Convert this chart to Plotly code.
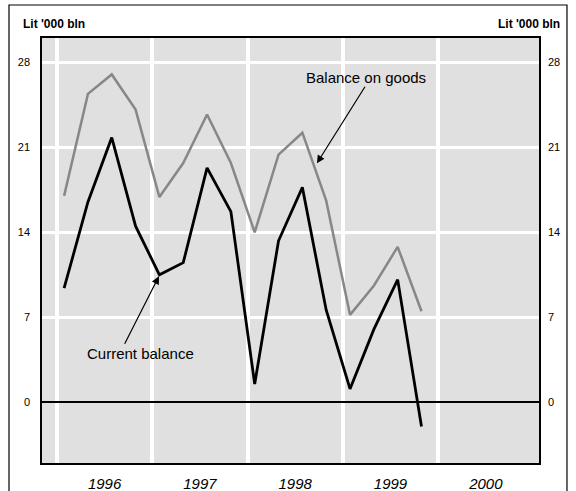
import plotly.graph_objects as go

# Quarterly data, 1996 Q1 - 1999 Q4 (Lit '000 bln)
years = [1996] * 4 + [1997] * 4 + [1998] * 4 + [1999] * 4
quarters = [1, 2, 3, 4] * 4
current_balance = [9.4, 16.5, 21.8, 14.5, 10.5, 11.5, 19.3, 15.7,
                   1.5, 13.3, 17.7, 7.6, 1.1, 6.0, 10.1, -2.0]
balance_on_goods = [17.0, 25.4, 27.0, 24.1, 16.9, 19.7, 23.7, 19.7,
                    14.0, 20.4, 22.2, 16.6, 7.2, 9.6, 12.8, 7.5]

year_labels = ['1996', '1997', '1998', '1999', '2000']
y_ticks = [0, 7, 14, 21, 28]

FONT = 'Liberation Sans, Arial, sans-serif'

# position each quarter within its year band
x = [y + (q - 1) / 4 + 0.075 for y, q in zip(years, quarters)]

fig = go.Figure()
fig.add_trace(go.Scatter(
    x=x, y=balance_on_goods, mode='lines',
    line=dict(color='#878787', width=2.5),
    hoverinfo='skip', showlegend=False,
))
fig.add_trace(go.Scatter(
    x=x, y=current_balance, mode='lines',
    line=dict(color='black', width=2.8),
    hoverinfo='skip', showlegend=False,
))
# invisible trace so the right axis is drawn
fig.add_trace(go.Scatter(
    x=[x[0]], y=[0], yaxis='y2', mode='markers',
    marker=dict(opacity=0), hoverinfo='skip', showlegend=False,
))

fig.update_layout(
    width=576, height=491,
    margin=dict(l=42, r=37, t=38, b=28),
    paper_bgcolor='white',
    plot_bgcolor='#e0e0e0',
    font=dict(family=FONT, size=11, color='black'),
    xaxis=dict(
        range=[1995.843, 2001.058],
        tickvals=[int(v) + 0.5 for v in year_labels],
        ticktext=year_labels,
        tickfont=dict(size=15, style='italic'),
        ticks='', ticklabelstandoff=6,
        showgrid=False,
        minor=dict(tickvals=[int(v) for v in year_labels],
                   showgrid=True, gridcolor='white', gridwidth=4),
        showline=True, linecolor='black', linewidth=1.5, mirror=True,
        zeroline=False, automargin=False,
    ),
    yaxis=dict(
        range=[-5, 30],
        tickvals=y_ticks,
        ticks='', ticklabelstandoff=8,
        showgrid=True, gridcolor='white', gridwidth=3,
        zeroline=True, zerolinecolor='black', zerolinewidth=1.5,
        showline=True, linecolor='black', linewidth=1.5, mirror=True,
        automargin=False,
    ),
    yaxis2=dict(
        range=[-5, 30],
        tickvals=y_ticks,
        overlaying='y', side='right',
        ticks='', ticklabelstandoff=8,
        showgrid=False, zeroline=False, showline=False,
        automargin=False,
    ),
)

# outer frame
fig.add_shape(type='rect', xref='paper', yref='paper',
              x0=-0.0664, x1=1.0563, y0=-0.09, y1=1.0776,
              line=dict(color='black', width=1.2), fillcolor='rgba(0,0,0,0)',
              layer='below')

# unit labels
for xp, anchor in [(-0.0423, 'left'), (1.0463, 'right')]:
    fig.add_annotation(text="<b>Lit '000 bln</b>", xref='paper', yref='paper',
                       x=xp, y=1.033, xanchor=anchor, yanchor='middle',
                       showarrow=False, font=dict(size=12))

# series labels and arrows
fig.add_annotation(text='Balance on goods', x=1999.242, y=26.77,
                   showarrow=False, font=dict(size=15))
fig.add_annotation(text='', x=1998.728, y=19.69, ax=1999.242, ay=26.11,
                   axref='x', ayref='y', showarrow=True,
                   arrowhead=2, arrowsize=1.3, arrowwidth=1.2,
                   arrowcolor='black', standoff=0)
fig.add_annotation(text='Current balance', x=1996.881, y=4.04,
                   showarrow=False, font=dict(size=15))
fig.add_annotation(text='', x=1997.070, y=10.38, ax=1996.703, ay=4.69,
                   axref='x', ayref='y', showarrow=True,
                   arrowhead=2, arrowsize=1.3, arrowwidth=1.2,
                   arrowcolor='black', standoff=0)

fig.write_html('out.html', config={'displayModeBar': False},
               post_script="document.body.style.margin='0';")
